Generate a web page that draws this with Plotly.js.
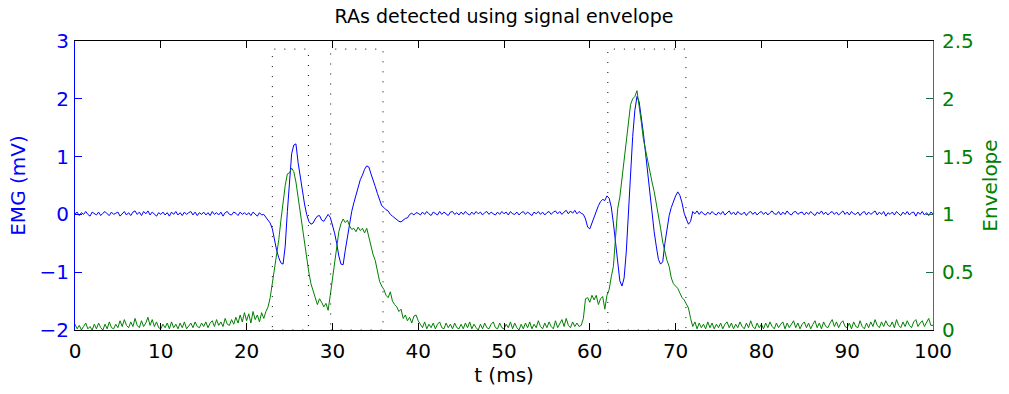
<!DOCTYPE html>
<html>
<head>
<meta charset="utf-8">
<script src="https://cdn.plot.ly/plotly-3.0.1.min.js"></script>
<style>html,body{margin:0;padding:0;background:#fff;}#chart{width:1009px;height:394px;}</style>
</head>
<body>
<div id="chart"></div>
<script>
// sampling of both signals: start time and step (ms)
const tStart = 0;
const tStep = 0.25;

// EMG signal (mV), one value every 0.25 ms from 0 to 100 ms
const emg = [
 0.01,0.04,-0.02,0.03,0.00,0.05,0.00,-0.03,0.04,0.01,-0.01,0.04,-0.02,0.02,0.05,0.01,-0.02,0.04,0.00,0.02,
 0.04,-0.03,0.02,0.05,-0.01,0.03,-0.02,0.04,0.06,0.00,0.04,-0.02,0.05,0.01,0.06,-0.01,0.04,0.00,-0.03,0.03,
 0.00,0.04,-0.01,0.03,-0.03,0.04,0.00,0.05,-0.01,0.03,-0.02,0.04,0.00,0.03,0.05,-0.01,0.04,-0.02,0.03,0.00,
 0.04,-0.01,0.03,-0.02,0.05,0.00,0.03,-0.01,0.04,-0.03,0.03,0.05,0.00,-0.01,0.04,0.02,-0.02,0.04,0.00,0.03,
 -0.01,0.03,-0.02,0.04,0.00,-0.03,0.03,-0.01,0.00,-0.05,-0.08,-0.15,-0.25,-0.45,-0.62,-0.75,-0.84,-0.86,-0.55,0.05,
 0.60,1.05,1.20,1.22,0.90,0.65,0.42,0.18,0.00,-0.12,-0.17,-0.15,-0.08,-0.03,-0.02,-0.10,-0.12,-0.06,0.00,-0.05,
 -0.18,-0.32,-0.50,-0.72,-0.86,-0.87,-0.62,-0.40,-0.12,0.05,0.20,0.35,0.47,0.60,0.68,0.78,0.84,0.82,0.70,0.60,
 0.48,0.36,0.24,0.15,0.12,0.08,0.06,0.00,-0.03,-0.06,-0.10,-0.12,-0.13,-0.10,-0.07,-0.06,0.00,0.02,-0.01,0.03,
 0.02,-0.01,0.04,0.00,0.05,0.01,-0.02,0.04,0.01,-0.01,0.05,0.00,0.04,0.01,-0.02,0.04,0.05,0.00,0.03,-0.01,
 0.04,0.00,0.05,0.01,-0.01,0.04,0.00,0.05,0.01,0.04,-0.01,0.03,0.05,0.00,0.04,0.01,-0.01,0.04,0.00,0.05,
 0.01,0.04,-0.01,0.05,0.01,0.00,0.04,-0.01,0.03,0.05,0.00,0.04,0.01,-0.02,0.04,0.01,0.05,0.00,0.04,-0.01,
 0.03,0.05,0.00,0.04,0.06,0.01,0.05,0.00,0.04,0.07,0.01,0.06,0.02,0.07,0.01,0.05,0.02,0.00,-0.08,-0.22,
 -0.25,-0.15,-0.05,0.08,0.15,0.22,0.26,0.24,0.32,0.28,0.13,-0.15,-0.52,-0.90,-1.15,-1.24,-1.10,-0.65,0.00,0.75,
 1.35,1.80,2.04,1.95,1.70,1.40,1.06,0.72,0.37,0.00,-0.30,-0.55,-0.78,-0.86,-0.82,-0.50,-0.22,-0.02,0.12,0.24,
 0.32,0.39,0.33,0.20,0.02,-0.08,-0.17,-0.12,0.05,0.01,0.06,0.00,0.05,0.01,-0.01,0.04,0.00,0.05,0.01,-0.01,
 0.04,0.00,0.05,-0.01,0.03,0.06,0.00,0.04,-0.01,0.05,0.01,0.00,0.04,-0.02,0.03,0.05,0.00,0.04,-0.01,0.03,
 0.05,0.00,0.04,-0.01,0.03,0.06,0.01,0.00,0.05,-0.01,0.04,0.00,0.06,0.01,-0.01,0.04,0.05,0.00,0.03,0.04,
 -0.01,0.04,0.00,0.05,0.01,-0.02,0.04,0.01,0.06,0.00,0.04,-0.01,0.03,0.05,0.00,0.04,-0.01,0.03,0.06,0.00,
 0.04,-0.01,0.05,0.01,0.00,0.04,-0.02,0.03,0.05,-0.01,0.04,0.00,0.03,0.06,-0.01,0.04,0.00,0.05,-0.03,0.03,
 0.00,0.04,-0.01,0.05,0.01,-0.02,0.04,0.00,0.05,-0.01,0.03,0.04,-0.03,0.04,0.00,0.05,-0.01,0.03,-0.02,0.04,
 0.01
];

// Signal envelope, same sampling
const envelope = [
 0.05,0.01,0.04,0.00,0.03,0.06,0.01,0.03,0.00,0.05,0.01,0.06,0.02,0.00,0.05,0.01,0.07,0.02,0.01,0.05,
 0.02,0.08,0.03,0.09,0.04,0.02,0.07,0.03,0.10,0.04,0.02,0.08,0.03,0.06,0.11,0.04,0.09,0.03,0.07,0.02,
 0.01,0.05,0.02,0.06,0.01,0.07,0.02,0.05,0.01,0.06,0.02,0.07,0.01,0.04,0.06,0.02,0.07,0.03,0.02,0.06,
 0.03,0.07,0.02,0.06,0.08,0.03,0.09,0.04,0.07,0.03,0.10,0.05,0.04,0.09,0.05,0.11,0.06,0.13,0.07,0.15,
 0.08,0.14,0.06,0.16,0.09,0.13,0.07,0.15,0.10,0.16,0.20,0.28,0.40,0.55,0.68,0.78,0.95,1.12,1.25,1.35,
 1.36,1.40,1.37,1.28,1.15,1.00,0.88,0.78,0.65,0.50,0.40,0.33,0.28,0.22,0.27,0.24,0.20,0.23,0.17,0.30,
 0.45,0.60,0.73,0.85,0.92,0.96,0.93,0.95,0.90,0.87,0.88,0.85,0.89,0.86,0.88,0.84,0.88,0.80,0.72,0.65,
 0.60,0.52,0.42,0.38,0.35,0.30,0.28,0.33,0.25,0.22,0.20,0.16,0.18,0.10,0.13,0.08,0.11,0.06,0.12,0.13,
 0.08,0.05,0.02,0.07,0.01,0.05,0.02,0.06,0.01,0.05,0.07,0.02,0.01,0.06,0.02,0.05,0.01,0.06,0.02,0.01,
 0.05,0.01,0.06,0.02,0.07,0.01,0.05,0.02,0.00,0.05,0.01,0.06,0.02,0.01,0.05,0.07,0.02,0.01,0.06,0.02,
 0.01,0.05,0.02,0.07,0.01,0.06,0.02,0.00,0.05,0.01,0.06,0.02,0.07,0.01,0.05,0.02,0.08,0.03,0.01,0.06,
 0.02,0.07,0.03,0.01,0.08,0.02,0.06,0.09,0.03,0.10,0.04,0.02,0.07,0.03,0.06,0.03,0.04,0.10,0.27,0.28,
 0.24,0.30,0.26,0.30,0.22,0.27,0.29,0.18,0.30,0.35,0.46,0.55,0.80,1.05,1.15,1.30,1.45,1.62,1.80,1.95,
 2.00,2.02,2.07,1.95,1.80,1.65,1.55,1.45,1.36,1.28,1.20,1.10,0.98,0.88,0.76,0.68,0.60,0.55,0.45,0.40,
 0.38,0.36,0.32,0.28,0.26,0.22,0.19,0.10,0.03,0.07,0.01,0.06,0.02,0.05,0.01,0.07,0.02,0.06,0.01,0.05,
 0.02,0.06,0.01,0.05,0.07,0.02,0.06,0.01,0.05,0.02,0.07,0.03,0.01,0.06,0.02,0.08,0.03,0.01,0.06,0.02,
 0.05,0.01,0.06,0.02,0.07,0.03,0.01,0.06,0.02,0.05,0.07,0.01,0.06,0.02,0.05,0.08,0.02,0.06,0.01,0.05,
 0.07,0.02,0.06,0.01,0.05,0.08,0.02,0.06,0.01,0.07,0.03,0.02,0.06,0.09,0.03,0.07,0.02,0.06,0.08,0.03,
 0.02,0.06,0.01,0.07,0.03,0.02,0.08,0.03,0.01,0.06,0.02,0.07,0.03,0.09,0.04,0.02,0.07,0.03,0.08,0.04,
 0.03,0.07,0.02,0.09,0.04,0.02,0.07,0.03,0.08,0.04,0.02,0.07,0.09,0.03,0.06,0.08,0.03,0.07,0.10,0.04,
 0.04
];

// Detected RA intervals (ms)
const raStart = [23.0, 29.8, 62.1];
const raEnd   = [27.2, 35.9, 71.2];
const raTop = 2.86; // top of the detection boxes, EMG axis units

const xTicks = [0,10,20,30,40,50,60,70,80,90,100];
const yTicks = [-2,-1,0,1,2,3];
const y2Ticks = [0,0.5,1,1.5,2,2.5];
const y2TickText = ['0','0.5','1','1.5','2','2.5'];

const FONT = 'DejaVu Sans, Liberation Sans, Arial, sans-serif';
const BLUE = '#0000ff';
const GREEN = '#008000';

const traces = [
  {type:'scatter', mode:'lines', y:emg, x0:tStart, dx:tStep, yaxis:'y',
   line:{color:BLUE, width:1}, hoverinfo:'skip'},
  {type:'scatter', mode:'lines', y:envelope, x0:tStart, dx:tStep, yaxis:'y2',
   line:{color:GREEN, width:1}, hoverinfo:'skip'}
];

const shapes = raStart.map((s,i)=>({
  type:'rect', xref:'x', yref:'y', x0:s, x1:raEnd[i], y0:-2, y1:raTop,
  line:{color:'#000', width:1, dash:'1px,9px'}, layer:'above'
}));

const layout = {
  width:1009, height:394,
  margin:{l:75, r:76, t:41, b:64, pad:0},
  paper_bgcolor:'#fff', plot_bgcolor:'#fff',
  showlegend:false,
  font:{family:FONT, size:20, color:'#000'},
  title:{text:'RAs detected using signal envelope', font:{family:FONT, size:19, color:'#000'},
         x:0.5, xref:'paper', xanchor:'center', y:1-16/394, yref:'container', yanchor:'middle'},
  xaxis:{range:[0,100], tickvals:xTicks, ticks:'inside', ticklen:7, tickwidth:1, tickcolor:'#000',
         showline:true, linecolor:'#000', linewidth:1, mirror:'ticks', showgrid:false, zeroline:false,
         tickfont:{family:FONT, size:20, color:'#000'}, ticklabelstandoff:3,
         title:{text:'t (ms)', font:{family:FONT, size:20, color:'#000'}, standoff:4}},
  yaxis:{range:[-2,3], tickvals:yTicks, ticks:'inside', ticklen:7, tickwidth:1, tickcolor:BLUE,
         showline:true, linecolor:BLUE, linewidth:1, showgrid:false, zeroline:false,
         tickfont:{family:FONT, size:20, color:BLUE}, ticklabelstandoff:1,
         title:{text:'EMG (mV)', font:{family:FONT, size:20, color:BLUE}, standoff:8}},
  yaxis2:{range:[0,2.5], tickvals:y2Ticks, ticktext:y2TickText, overlaying:'y', side:'right',
          ticks:'inside', ticklen:7, tickwidth:1, tickcolor:'#1f6a4a',
          showline:true, linecolor:'#3d6e9e', linewidth:1, showgrid:false, zeroline:false,
          tickfont:{family:FONT, size:20, color:GREEN}, ticklabelstandoff:4,
          title:{text:'Envelope', font:{family:FONT, size:20, color:GREEN}, standoff:10}},
  shapes:shapes
};

Plotly.newPlot('chart', traces, layout, {displayModeBar:false, staticPlot:true});
</script>
</body>
</html>
